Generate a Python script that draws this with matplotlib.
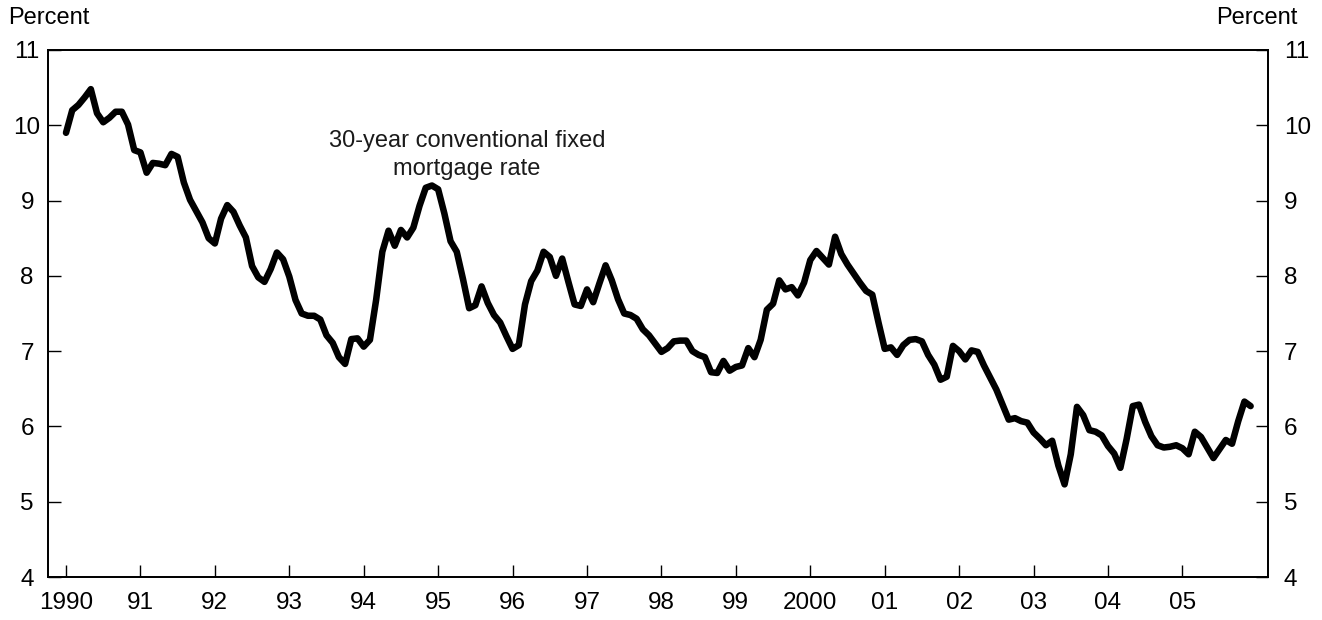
import matplotlib
matplotlib.use("Agg")
import matplotlib.pyplot as plt
import numpy as np

plt.rcParams['font.family'] = ['Liberation Sans', 'DejaVu Sans']

years = list(range(1990, 2006))
rate_1990 = [9.90, 10.20, 10.27, 10.37, 10.48, 10.16, 10.04, 10.10, 10.18, 10.18, 10.01, 9.67]
rate_1991 = [9.64, 9.37, 9.50, 9.49, 9.47, 9.62, 9.58, 9.24, 9.01, 8.86, 8.71, 8.50]
rate_1992 = [8.43, 8.76, 8.94, 8.85, 8.67, 8.51, 8.13, 7.98, 7.92, 8.09, 8.31, 8.22]
rate_1993 = [7.99, 7.68, 7.50, 7.47, 7.47, 7.42, 7.21, 7.11, 6.92, 6.83, 7.16, 7.17]
rate_1994 = [7.06, 7.15, 7.68, 8.32, 8.60, 8.40, 8.61, 8.51, 8.64, 8.93, 9.17, 9.20]
rate_1995 = [9.15, 8.83, 8.46, 8.32, 7.96, 7.57, 7.61, 7.86, 7.64, 7.48, 7.38, 7.20]
rate_1996 = [7.03, 7.08, 7.62, 7.93, 8.07, 8.32, 8.25, 8.00, 8.23, 7.92, 7.62, 7.60]
rate_1997 = [7.82, 7.65, 7.90, 8.14, 7.94, 7.69, 7.50, 7.48, 7.43, 7.29, 7.21, 7.10]
rate_1998 = [6.99, 7.04, 7.13, 7.14, 7.14, 7.00, 6.95, 6.92, 6.72, 6.71, 6.87, 6.74]
rate_1999 = [6.79, 6.81, 7.04, 6.92, 7.15, 7.55, 7.63, 7.94, 7.82, 7.85, 7.74, 7.91]
rate_2000 = [8.21, 8.33, 8.24, 8.15, 8.52, 8.29, 8.15, 8.03, 7.91, 7.80, 7.75, 7.38]
rate_2001 = [7.03, 7.05, 6.95, 7.08, 7.15, 7.16, 7.13, 6.95, 6.82, 6.62, 6.66, 7.07]
rate_2002 = [7.00, 6.89, 7.01, 6.99, 6.81, 6.65, 6.49, 6.29, 6.09, 6.11, 6.07, 6.05]
rate_2003 = [5.92, 5.84, 5.75, 5.81, 5.48, 5.23, 5.63, 6.26, 6.15, 5.95, 5.93, 5.88]
rate_2004 = [5.74, 5.64, 5.45, 5.83, 6.27, 6.29, 6.06, 5.87, 5.75, 5.72, 5.73, 5.75]
rate_2005 = [5.71, 5.63, 5.93, 5.86, 5.72, 5.58, 5.70, 5.82, 5.77, 6.07, 6.33, 6.27]

all_rates = (rate_1990 + rate_1991 + rate_1992 + rate_1993 + rate_1994 + rate_1995 +
             rate_1996 + rate_1997 + rate_1998 + rate_1999 + rate_2000 + rate_2001 +
             rate_2002 + rate_2003 + rate_2004 + rate_2005)
dates = [y + m / 12.0 for y in years for m in range(12)]

x_tick_labels = ['1990', '91', '92', '93', '94', '95', '96', '97', '98', '99',
                 '2000', '01', '02', '03', '04', '05']
y_ticks = [4, 5, 6, 7, 8, 9, 10, 11]
y_tick_labels = [str(v) for v in y_ticks]

fig = plt.figure(figsize=(13.22, 6.2), dpi=100)
ax = fig.add_axes([48/1322, 1 - 577/620, (1268-48)/1322, (577-50)/620])

ax.plot(dates, all_rates, color='black', lw=4.7, solid_joinstyle='round', solid_capstyle='round')

ax.set_xlim(1989.758, 2006.15)
ax.set_ylim(4, 11)
ax.set_xticks(years)
ax.set_xticklabels(x_tick_labels)
ax.set_yticks(y_ticks)
ax.set_yticklabels(y_tick_labels)

for s in ax.spines.values():
    s.set_linewidth(1.3)

ax.tick_params(axis='x', direction='in', length=9, width=1.0, labelsize=17.5, pad=11)
ax.tick_params(axis='y', direction='in', length=9, width=1.0, labelsize=17.5,
               left=True, right=False, labelleft=True, labelright=False, pad=15)
for t in ax.get_yticklabels():
    t.set_horizontalalignment('center')

ax2 = ax.twinx()
ax2.set_ylim(4, 11)
ax2.set_yticks(y_ticks)
ax2.set_yticklabels(y_tick_labels)
ax2.tick_params(axis='y', direction='in', length=9, width=1.0, labelsize=17.5, pad=11.5)
for s in ax2.spines.values():
    s.set_linewidth(1.3)

ax.text(1995.39, 9.61, '30-year conventional fixed\nmortgage rate', ha='center', va='center',
        fontsize=17, linespacing=1.35, color='#1a1a1a')

fig.text(8/1322, 1 - 18/620, 'Percent', ha='left', va='center', fontsize=17)
fig.text(1297/1322, 1 - 18/620, 'Percent', ha='right', va='center', fontsize=17)

fig.savefig('out.png', dpi=100)
